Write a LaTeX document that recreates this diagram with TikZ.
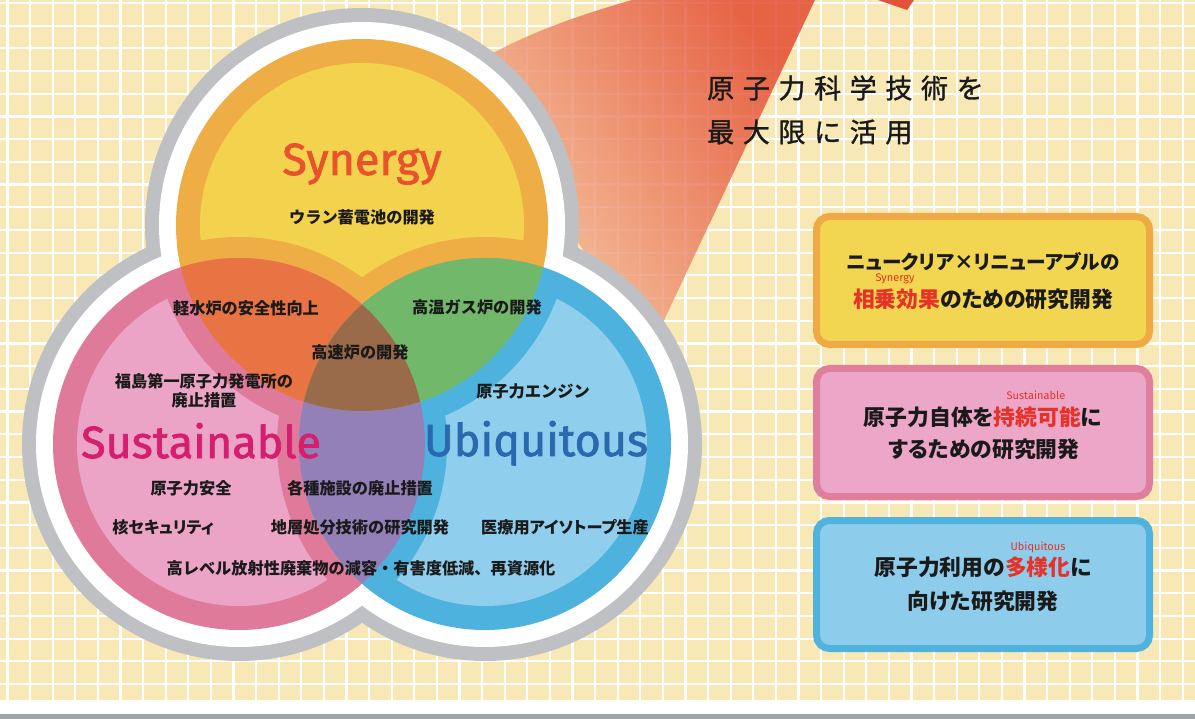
\documentclass[tikz,border=0pt]{standalone}
\usepackage{fontspec}
\setmainfont{Fira Sans}
\newfontfamily\jp{Noto Sans CJK JP}
\newfontfamily\jpp[RawFeature=+palt]{Noto Sans CJK JP}
\newfontfamily\jphead[LetterSpace=32,FakeBold=1.2]{Noto Sans CJK JP}
\newfontfamily\lat{Fira Sans}
\newfontfamily\latb[FakeBold=1.6]{Fira Sans}
\definecolor{bgbeige}{RGB}{248,232,182}
\definecolor{bargray}{RGB}{160,164,168}
\definecolor{outgray}{RGB}{190,192,195}
\definecolor{ringY}{RGB}{239,174,69}
\definecolor{lightY}{RGB}{243,211,78}
\definecolor{ringS}{RGB}{224,122,154}
\definecolor{lightS}{RGB}{235,164,198}
\definecolor{ringU}{RGB}{77,178,222}
\definecolor{lightU}{RGB}{143,206,236}
\definecolor{oYS}{RGB}{232,116,67}
\definecolor{oYU}{RGB}{114,184,107}
\definecolor{oSU}{RGB}{147,128,184}
\definecolor{oT}{RGB}{154,107,74}
\definecolor{fanred}{RGB}{226,66,40}
\definecolor{fanlight}{RGB}{246,196,162}
\definecolor{txt}{RGB}{26,26,26}
\definecolor{emred}{RGB}{230,50,40}
\definecolor{synC}{RGB}{232,82,44}
\definecolor{susC}{RGB}{214,30,111}
\definecolor{ubiC}{RGB}{42,104,176}
\definecolor{b1fill}{RGB}{242,213,80}
\definecolor{b1draw}{RGB}{239,170,70}
\definecolor{b2fill}{RGB}{235,166,200}
\definecolor{b2draw}{RGB}{224,126,158}
\definecolor{b3fill}{RGB}{141,205,235}
\definecolor{b3draw}{RGB}{79,179,222}
\tikzset{
  gridline/.style={white, line width=2.2pt},
  lab/.style={font=\jp\bfseries\fontsize{16.2}{19.5}\selectfont, text=txt, inner sep=0pt},
  labp/.style={font=\jpp\bfseries\fontsize{16.2}{19.5}\selectfont, text=txt, inner sep=0pt},
  boxtxt/.style={font=\jpp\bfseries\fontsize{21.8}{25}\selectfont, text=txt, inner sep=0pt},
  boxtxtsm/.style={font=\jpp\bfseries\fontsize{19.6}{22}\selectfont, text=txt, inner sep=0pt},
  ann/.style={font=\lat\fontsize{11}{12}\selectfont, text=emred, inner sep=0pt},
  big/.style={font=\latb\fontsize{45}{50}\selectfont, inner sep=0pt, anchor=base},
  headtxt/.style={font=\jphead\fontsize{27}{32}\selectfont, text=txt, inner sep=0pt, anchor=west},
  infobox/.style={line width=7pt, rounded corners=13pt, minimum width=333pt, minimum height=128pt, inner sep=0pt}
}
\begin{document}
\begin{tikzpicture}[x=1pt,y=-1pt]
\useasboundingbox (0,0) rectangle (1195,719);
\fill[white] (0,0) rectangle (1195,719);
\fill[bgbeige] (0,0) rectangle (1195,700);
\fill[bargray] (0,714) rectangle (1195,719);
% grid
\begin{scope}
  \clip (0,0) rectangle (1195,700);
  \foreach \i in {0,...,53} \draw[gridline] ({7.5+22.6*\i},0) -- ({7.5+22.6*\i},700);
  \foreach \j in {0,...,31} \draw[gridline] (0,{3+22.7*\j}) -- (1195,{3+22.7*\j});
\end{scope}
% light beam
\shade[top color=fanred, bottom color=fanlight, shading angle=-58, opacity=0.8]
  (470,80) -- (493,53) .. controls (540,28) and (590,12) .. (632,0) -- (815,0) -- (650,350) -- cycle;
\fill[fanred, opacity=0.9] (878,0) -- (914,0) -- (907,10) -- cycle;
% circle centres
\coordinate (cY) at (362,225);
\coordinate (cS) at (239,444);
\coordinate (cU) at (485,444);
% outline
\fill[outgray] (cY) circle (217) (cS) circle (217) (cU) circle (217);
\fill[white] (cY) circle (203) (cS) circle (203) (cU) circle (203);
% base discs
\fill[ringY] (cY) circle (186); \fill[lightY] (cY) circle (162);
\fill[ringS] (cS) circle (186); \fill[lightS] (cS) circle (162);
\fill[ringU] (cU) circle (186); \fill[lightU] (cU) circle (162);
% rings along overlaps
\begin{scope}\clip (cY) circle (186); \fill[ringY] (cS) circle (207) (cU) circle (207);\end{scope}
\begin{scope}\clip (cS) circle (186); \fill[ringS] (cY) circle (208) (cU) circle (208);\end{scope}
\begin{scope}\clip (cU) circle (186); \fill[ringU] (cY) circle (208) (cS) circle (208);\end{scope}
% overlaps
\begin{scope}\clip (cS) circle (186); \fill[oSU] (cU) circle (186);\end{scope}
\begin{scope}
  \clip (cY) circle (186);
  \fill[oYS] (cS) circle (186);
  \fill[oYU] (cU) circle (186);
  \clip (cS) circle (186);
  \fill[oT] (cU) circle (186);
\end{scope}
% circle titles
\node[big, text=synC] (tSyn) at (362,175) {Synergy};
\node[big, text=susC] (tSus) at (201,458) {Sustainable};
\node[big, text=ubiC] (tUbi) at (536,456) {Ubiquitous};
% labels
\node[lab] (l1) at (362,217) {ウラン蓄電池の開発};
\node[lab] (l2) at (246,308) {軽水炉の安全性向上};
\node[lab] (l3) at (477,307) {高温ガス炉の開発};
\node[lab] (l4) at (360,352) {高速炉の開発};
\node[lab, align=center] (l5) at (204,391) {福島第一原子力発電所の\\廃止措置};
\node[lab] (l6) at (533,391) {原子力エンジン};
\node[lab] (l7) at (191,488) {原子力安全};
\node[lab] (l8) at (360,488) {各種施設の廃止措置};
\node[labp] (l9) at (163,527) {核セキュリティ};
\node[lab] (l10) at (360,527) {地層処分技術の研究開発};
\node[labp] (l11) at (565,527) {医療用アイソトープ生産};
\node[lab] (l12) at (361,568) {高レベル放射性廃棄物の減容・有害度低減、再資源化};
% heading
\node[headtxt] (h1) at (707,88) {原子力科学技術を};
\node[headtxt] (h2) at (707,132) {最大限に活用};
% boxes
\node[infobox, fill=b1fill, draw=b1draw] (b1) at (983,280.5) {};
\node[infobox, fill=b2fill, draw=b2draw] (b2) at (983,432.5) {};
\node[infobox, fill=b3fill, draw=b3draw] (b3) at (983,584.5) {};
\node[boxtxtsm] (b1a) at (983,262) {ニュークリア×リニューアブルの};
\node[boxtxt] (b1b) at (983,299) {\textcolor{emred}{相乗効果}のための研究開発};
\node[ann] (b1n) at (895,279) {Synergy};
\node[boxtxt] (b2a) at (983,417) {原子力自体を\textcolor{emred}{持続可能}に};
\node[boxtxt] (b2b) at (984,449) {するための研究開発};
\node[ann] (b2n) at (1036,395) {Sustainable};
\node[boxtxt] (b3a) at (983,567) {原子力利用の\textcolor{emred}{多様化}に};
\node[boxtxt] (b3b) at (983,601) {向けた研究開発};
\node[ann] (b3n) at (1038,547) {Ubiquitous};
\end{tikzpicture}
\end{document}
